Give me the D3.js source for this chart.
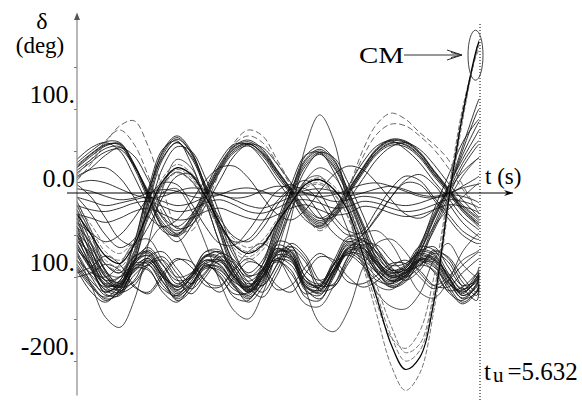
<!DOCTYPE html>
<html>
<head>
<meta charset="utf-8">
<script src="https://cdn.jsdelivr.net/npm/d3@7"></script>
<style>
  html, body { margin: 0; padding: 0; background: #fff; }
  svg { display: block; }
  text { font-family: "Liberation Serif", "Times New Roman", serif; fill: #000; }
</style>
</head>
<body>
<svg id="chart" width="582" height="402"></svg>
<script>
// Sample times (s) of every rotor-angle trajectory; the last one is the instability time t_u.
const times = [0, 0.2, 0.4, 0.6, 0.8, 1.0, 1.2, 1.4, 1.6, 1.8,
               2.0, 2.2, 2.4, 2.6, 2.8, 3.0, 3.2, 3.4, 3.6, 3.8,
               4.0, 4.2, 4.4, 4.6, 4.8, 5.0, 5.2, 5.4, 5.6, 5.632];
const tU = 5.632;

// Upper coherent group (deg)
const upperSwing = [
  [30, 44, 56, 59, 35, -2, -35, -48, -32, -3,   30, 53, 59, 47, 24, 1, -24, -37, -26, 0,   26, 49, 60, 57, 44, 22, 2, -20, -36, -38],
  [33, 47, 58, 57, 30, -8, -40, -52, -35, -6,   27, 50, 58, 48, 26, 3, -22, -35, -24, 2,   28, 51, 62, 60, 47, 25, 4, -18, -33, -35],
  [27, 40, 53, 55, 33, 0, -30, -45, -30, 0,     32, 55, 61, 50, 27, 4, -20, -33, -22, 3,   29, 52, 63, 61, 48, 26, 5, -16, -30, -33],
  [36, 50, 61, 60, 33, -5, -42, -58, -40, -8,   25, 48, 56, 44, 20, -2, -28, -42, -30, -3, 23, 46, 57, 55, 42, 20, 0, -22, -38, -41],
  [24, 37, 49, 52, 32, 2, -28, -40, -26, 2,     34, 56, 63, 52, 28, 5, -18, -30, -20, 4,   30, 53, 64, 62, 49, 27, 6, -14, -28, -30],
  [31, 46, 57, 58, 34, -4, -38, -50, -34, -4,   29, 52, 59, 46, 23, 0, -26, -39, -27, -1,  25, 48, 59, 58, 45, 23, 3, -19, -35, -37],
  [18, 30, 45, 54, 44, 15, -18, -42, -38, -15,  15, 44, 58, 54, 35, 12, -12, -30, -28, -8, 16, 40, 55, 60, 52, 34, 12, -8, -26, -29],
  [40, 54, 60, 50, 20, -15, -45, -50, -28, 5,   38, 58, 57, 40, 15, -8, -32, -40, -20, 8,  36, 56, 62, 52, 36, 14, -6, -28, -42, -44]
];
const upperSwingDashed = [
  [15, 35, 60, 80, 86, 55, 5, -40, -45, -15,    25, 60, 75, 68, 40, 10, -25, -45, -30, 5,  50, 82, 95, 88, 72, 58, 40, 10, -20, -25],
  [22, 40, 62, 75, 58, 20, -25, -50, -40, -10,  30, 58, 68, 60, 36, 8, -22, -40, -28, 4,   42, 70, 82, 80, 68, 52, 30, 5, -20, -24]
];

// Machines swinging against the upper group
const antiSwing = [
  [-20, -60, -100, -110, -75, -10, 45, 64, 48, 8,   -40, -85, -105, -90, -45, 0, 38, 50, 35, 0,    -40, -80, -100, -95, -70, -30, 5, 45, 80, 85],
  [-30, -75, -112, -118, -80, -5, 50, 68, 50, 6,    -45, -90, -112, -95, -50, -3, 35, 48, 32, -3,  -45, -85, -105, -100, -72, -32, 3, 50, 95, 100],
  [-10, -45, -85, -95, -60, 2, 42, 60, 44, 10,      -35, -75, -95, -80, -38, 3, 40, 52, 38, 3,     -35, -72, -92, -88, -62, -25, 8, 40, 70, 75],
  [-40, -85, -120, -122, -85, -15, 40, 60, 42, 4,   -48, -95, -118, -100, -55, -6, 32, 46, 30, -5, -50, -92, -112, -106, -78, -38, 0, 35, 60, 62],
  [-25, -68, -105, -112, -70, 0, 48, 66, 47, 2,     -42, -82, -100, -85, -42, 2, 44, 55, 40, 2,    -38, -78, -98, -93, -66, -28, 6, 55, 105, 112],
  [-50, -90, -118, -105, -60, 5, 52, 62, 35, -10,   -60, -100, -112, -85, -35, 10, 45, 48, 25, -15, -60, -95, -108, -98, -65, -20, 20, 60, 85, 88],
  [-15, -50, -92, -108, -82, -25, 30, 55, 50, 18,   -25, -70, -98, -92, -60, -12, 28, 48, 42, 12,  -25, -65, -90, -95, -80, -42, -5, 30, 55, 58]
];

// Machines oscillating between the two groups
const midSwing = [
  [-5, -25, -50, -65, -55, -25, 10, 25, 15, -10,    -40, -58, -55, -35, -10, 5, 5, -10, -35, -50,   -45, -20, 5, 20, 15, -5, -25, -45, -55, -55],
  [10, -5, -30, -55, -62, -40, -5, 20, 22, 0,       -30, -52, -58, -42, -15, 5, 15, 0, -28, -45,    -48, -30, -5, 15, 22, 10, -12, -35, -50, -52],
  [-35, -48, -58, -50, -30, -5, 12, 10, -12, -40,   -60, -62, -45, -20, 2, 10, -2, -25, -48, -58,   -50, -28, -5, 12, 10, -8, -30, -50, -60, -60],
  [20, 28, 30, 18, -5, -28, -40, -32, -10, 15,      30, 32, 18, -5, -25, -32, -20, 2, 22, 32,       28, 12, -8, -25, -30, -20, 2, 25, 40, 42]
];

// Lower coherent group around -100 deg
const lowerGroup = [
  [-60, -90, -115, -112, -88, -78, -100, -120, -105, -80,  -85, -108, -122, -100, -68, -75, -112, -118, -90, -60,  -65, -85, -98, -90, -72, -78, -105, -125, -110, -100],
  [-45, -80, -108, -110, -85, -70, -92, -115, -100, -75,   -78, -102, -118, -95, -62, -70, -108, -112, -85, -55,   -60, -80, -95, -88, -68, -72, -100, -120, -100, -92],
  [-70, -100, -122, -118, -92, -82, -105, -126, -112, -86, -90, -112, -126, -106, -74, -80, -116, -122, -95, -66,  -70, -90, -104, -96, -78, -84, -110, -130, -116, -108],
  [-80, -105, -118, -108, -80, -75, -98, -112, -98, -76,   -80, -104, -116, -98, -70, -72, -104, -110, -86, -62,   -68, -86, -100, -94, -74, -80, -106, -118, -102, -95],
  [-55, -85, -110, -115, -92, -80, -98, -118, -108, -84,   -82, -100, -118, -104, -72, -70, -100, -114, -92, -64,  -62, -82, -100, -96, -78, -76, -98, -122, -112, -104],
  [-90, -112, -124, -110, -84, -85, -110, -124, -108, -88, -95, -115, -120, -98, -78, -86, -112, -116, -90, -70,   -78, -95, -106, -98, -82, -88, -108, -116, -100, -96],
  [-65, -92, -116, -120, -98, -86, -106, -122, -110, -90,  -92, -110, -124, -108, -80, -82, -110, -120, -98, -72,  -74, -92, -104, -100, -84, -82, -102, -126, -118, -110],
  [-40, -70, -100, -106, -80, -65, -85, -108, -96, -70,    -72, -96, -112, -92, -58, -62, -100, -108, -80, -52,    -56, -76, -92, -86, -64, -68, -95, -115, -96, -88],
  [-75, -98, -112, -104, -76, -72, -96, -116, -100, -74,   -76, -100, -114, -94, -66, -74, -106, -110, -84, -58,   -64, -84, -96, -90, -70, -74, -100, -122, -108, -98],
  [-50, -78, -104, -112, -94, -82, -100, -110, -96, -80,   -86, -106, -112, -90, -66, -78, -110, -116, -94, -70,   -66, -82, -94, -92, -80, -80, -96, -114, -106, -100],
  [-85, -108, -126, -120, -90, -78, -100, -128, -116, -88, -88, -110, -130, -112, -78, -78, -114, -126, -100, -68,  -72, -94, -110, -102, -80, -86, -114, -132, -118, -110],
  [-62, -88, -110, -108, -84, -74, -94, -112, -102, -82,   -80, -98, -116, -102, -74, -76, -104, -112, -92, -66,   -66, -86, -102, -98, -80, -78, -100, -118, -104, -96],
  [-95, -88, -75, -85, -110, -120, -100, -80, -82, -105,   -118, -100, -82, -88, -110, -118, -96, -76, -80, -100,  -112, -105, -88, -80, -92, -110, -112, -95, -80, -78],
  [-100, -95, -85, -92, -112, -118, -96, -78, -88, -110,   -112, -92, -78, -90, -115, -110, -88, -72, -84, -106,   -108, -98, -84, -84, -100, -114, -104, -86, -72, -70],
  [-58, -72, -98, -118, -110, -86, -80, -102, -120, -100,  -80, -88, -112, -124, -98, -68, -82, -116, -112, -80,   -58, -70, -92, -104, -92, -72, -82, -112, -128, -115],
  [-48, -66, -92, -112, -106, -84, -76, -96, -114, -96,    -76, -84, -106, -118, -92, -64, -78, -110, -108, -76,   -54, -66, -88, -100, -88, -68, -78, -106, -122, -112],
  [-88, -110, -128, -116, -90, -92, -114, -122, -100, -84, -100, -120, -118, -92, -80, -96, -120, -112, -84, -74,  -86, -104, -108, -92, -80, -94, -116, -112, -96, -94],
  [-68, -85, -104, -100, -82, -68, -86, -104, -100, -76,   -70, -92, -108, -100, -72, -64, -92, -104, -92, -66,    -56, -72, -86, -84, -70, -64, -88, -110, -104, -98],
  [-36, -62, -94, -116, -104, -76, -70, -90, -108, -94,    -72, -80, -100, -110, -86, -60, -74, -104, -110, -84,   -62, -62, -80, -92, -86, -70, -76, -100, -118, -108],
  [-92, -118, -130, -114, -86, -90, -118, -130, -110, -86, -98, -124, -128, -100, -82, -92, -124, -128, -96, -72,  -82, -100, -112, -104, -86, -92, -118, -128, -108, -102]
];

// Machines staying close to the reference angle
const nearZero = [
  [-5, -10, -15, -12, -8, -5, -10, -15, -12, -5,     -2, -8, -15, -18, -12, -5, -2, -5, -10, -8,       -4, -6, -12, -15, -12, -6, -2, -4, -10, -12],
  [-15, -20, -22, -18, -12, -10, -16, -22, -20, -12, -8, -14, -22, -24, -18, -10, -8, -12, -18, -16,   -10, -12, -18, -22, -20, -14, -8, -10, -16, -18],
  [5, 2, -4, -8, -6, 0, 4, 2, -4, -6,                -2, 4, 6, 2, -4, -2, 3, 5, 2, -3,                 0, 5, 8, 4, -2, -4, 0, 6, 10, 10],
  [-25, -30, -35, -30, -22, -18, -25, -32, -30, -22, -18, -24, -30, -32, -26, -18, -14, -20, -26, -24,  -16, -18, -24, -28, -26, -20, -14, -16, -22, -24],
  [12, 15, 12, 5, -2, -6, -4, 2, 6, 4,               -2, -6, -4, 3, 8, 6, 0, -4, -2, 4,                10, 12, 8, 2, -4, -6, -2, 8, 18, 20]
];

// Large-amplitude individual swings
const wideSwing = [
  [-72, -110, -148, -160, -128, -60, 5, 40, 30, -10,   -60, -95, -110, -95, -60, -20, 15, 30, 20, -10,      -50, -85, -100, -95, -75, -45, -10, 20, 40, 42],
  [-80, -95, -100, -85, -60, -55, -80, -100, -95, -75, -70, -95, -115, -110, -85, -30, 55, 93, 62, -20,     -80, -118, -135, -138, -120, -80, -60, -85, -100, -100],
  [-65, -90, -108, -100, -75, -70, -95, -112, -98, -70, -68, -95, -115, -100, -70, -68, -115, -155, -165, -140, -90, -60, -55, -70, -95, -110, -100, -80, -70, -68],
  [-50, -75, -95, -100, -85, -60, -40, -50, -80, -105, -110, -90, -70, -60, -75, -105, -132, -135, -110, -75,  -50, -45, -60, -90, -118, -125, -105, -70, -50, -48],
  [-40, -60, -85, -95, -70, -30, 0, 5, -20, -60,       -105, -140, -150, -120, -70, -20, 15, 20, -5, -45,    -85, -110, -115, -100, -70, -40, -20, -5, 10, 12]
];

// Critical machines (CM) losing synchronism at t_u
const criticalDashed = [
  [-20, -45, -70, -80, -60, -20, 15, 30, 20, -5,   -35, -60, -70, -60, -35, -10, 10, 15, 5, -20,   -70, -120, -170, -200, -188, -125, -10, 90, 170, 178],
  [-30, -55, -80, -88, -65, -25, 12, 28, 18, -8,   -40, -66, -76, -64, -38, -12, 8, 12, 0, -30,    -85, -145, -205, -235, -215, -140, -20, 85, 172, 182],
  [-15, -38, -62, -72, -55, -18, 18, 34, 24, 0,    -30, -55, -65, -56, -32, -8, 12, 18, 8, -15,    -60, -110, -158, -190, -180, -118, -5, 95, 168, 175],
  [-35, -60, -85, -92, -70, -30, 8, 24, 14, -12,   -44, -70, -80, -68, -40, -15, 6, 10, -2, -28,   -80, -132, -172, -185, -165, -100, 0, 100, 165, 170]
];
const criticalSolid = [
  [-25, -50, -75, -84, -62, -22, 14, 30, 22, -4,   -36, -62, -72, -62, -36, -12, 10, 16, 4, -22,   -72, -125, -180, -210, -196, -130, -12, 92, 172, 180]
];

// Axis annotation
const yTicks = [-200, -150, -100, -50, 50, 100, 150];
const yLabelValues = [100, 0, -100, -200];
const yLabelTexts = ["100.", "0.0", "100.", "-200."];

const svg = d3.select("#chart");

const x = d3.scaleLinear().domain([0, tU]).range([77, 479]);
const y = d3.scaleLinear().domain([-200, 150]).range([361, 67]);

const line = d3.line()
  .x((d, i) => x(times[i]))
  .y(d => y(d))
  .curve(d3.curveCatmullRom.alpha(0.5));

const curves = svg.append("g").attr("fill", "none");

function drawSet(set, stroke, width, dash) {
  curves.append("g")
    .selectAll("path")
    .data(set)
    .join("path")
    .attr("d", line)
    .attr("stroke", stroke)
    .attr("stroke-width", width)
    .attr("stroke-dasharray", dash)
    .attr("stroke-linejoin", "round");
}

drawSet(lowerGroup, "#111", 0.85, null);
drawSet(nearZero, "#111", 0.85, null);
drawSet(midSwing, "#111", 0.85, null);
drawSet(antiSwing, "#111", 0.85, null);
drawSet(upperSwing, "#111", 0.85, null);
drawSet(wideSwing, "#222", 0.8, null);
drawSet(upperSwingDashed, "#555", 0.9, "6,3");
drawSet(criticalDashed, "#666", 0.9, "5,2");
drawSet(criticalSolid, "#000", 1.2, null);

// Vertical axis (delta)
const yAxis = d3.axisLeft(y).tickValues(yTicks).tickSize(3).tickFormat("");
const gy = svg.append("g").attr("transform", `translate(${x(0)},0)`).call(yAxis);
gy.select(".domain").remove();
gy.selectAll(".tick line").attr("stroke", "#777");

svg.append("line")
  .attr("x1", x(0)).attr("x2", x(0))
  .attr("y1", y(212)).attr("y2", y(-241))
  .attr("stroke", "#888").attr("stroke-width", 1.2);
svg.append("path")
  .attr("d", `M${x(0) - 3},${y(206)} L${x(0)},${y(215)} L${x(0) + 3},${y(206)} Z`)
  .attr("fill", "#555");

svg.append("g").selectAll("text")
  .data(yLabelValues)
  .join("text")
  .attr("x", x(0) - 2)
  .attr("y", d => y(d) - 6)
  .attr("text-anchor", "end")
  .attr("font-size", 26)
  .text((d, i) => yLabelTexts[i]);

svg.append("text").attr("x", 42).attr("y", 29).attr("text-anchor", "middle")
  .attr("font-size", 24).text("δ");
svg.append("text").attr("x", 40).attr("y", 53).attr("text-anchor", "middle")
  .attr("font-size", 23).text("(deg)");

// Horizontal axis (time)
const x0 = x(0) - 10, x1 = x(tU) + 34;
svg.append("line")
  .attr("x1", x0).attr("x2", x1)
  .attr("y1", y(0)).attr("y2", y(0))
  .attr("stroke", "#000").attr("stroke-width", 1.2);
svg.append("path")
  .attr("d", `M${x1 - 9},${y(0) - 3} L${x1},${y(0)} L${x1 - 9},${y(0) + 3} L${x1 - 6},${y(0)} Z`)
  .attr("fill", "#000");
svg.append("text").attr("x", 485).attr("y", 184).attr("font-size", 23).text("t (s)");

// Instability time marker
svg.append("line")
  .attr("x1", x(tU) + 1).attr("x2", x(tU) + 1)
  .attr("y1", 24).attr("y2", 402)
  .attr("stroke", "#000").attr("stroke-width", 1)
  .attr("stroke-dasharray", "1,2");

const tLabel = svg.append("text").attr("x", 484).attr("y", 380).attr("font-size", 25);
tLabel.append("tspan").text("t");
tLabel.append("tspan").attr("dy", 2).attr("dx", 2).attr("font-size", 21).text("u");
tLabel.append("tspan").attr("dy", -2).attr("dx", 4).text("=" + d3.format(".3f")(tU));

// CM annotation
svg.append("ellipse")
  .attr("cx", x(tU) - 3.5).attr("cy", y(164))
  .attr("rx", 7.5).attr("ry", 25)
  .attr("fill", "none").attr("stroke", "#444").attr("stroke-width", 1);
svg.append("text")
  .attr("x", 359).attr("y", 63)
  .attr("font-size", 24)
  .attr("textLength", 45).attr("lengthAdjust", "spacingAndGlyphs")
  .text("CM");
svg.append("line")
  .attr("x1", 404).attr("x2", 462).attr("y1", 55).attr("y2", 55)
  .attr("stroke", "#333").attr("stroke-width", 1);
svg.append("path")
  .attr("d", "M447,50 L462,55 L447,60 M451,52.5 L462,55 L451,57.5")
  .attr("fill", "none").attr("stroke", "#333").attr("stroke-width", 1);
</script>
</body>
</html>
